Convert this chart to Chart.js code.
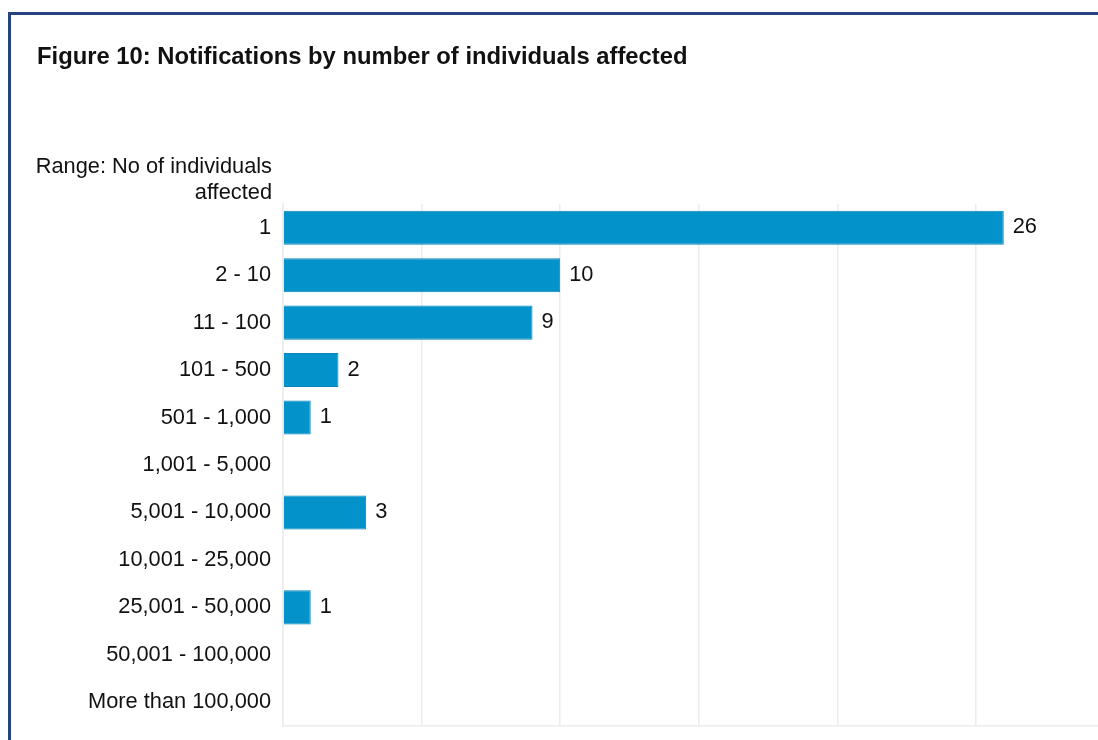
<!DOCTYPE html>
<html>
<head>
<meta charset="utf-8">
<title>Notifications by number of individuals affected</title>
<script src="https://cdn.jsdelivr.net/npm/chart.js@4/dist/chart.umd.min.js"></script>
<style>
  html, body { margin: 0; padding: 0; background: #ffffff; overflow: hidden; }
  #wrap { position: relative; width: 1098px; height: 740px; }
  #frame {
    position: absolute; left: 8px; top: 12px; width: 1200px; height: 900px;
    border-top: 3px solid #27427f; border-left: 3px solid #27427f;
  }
  canvas { position: absolute; left: 0; top: 0; }
</style>
</head>
<body>
<div id="wrap">
  <div id="frame"></div>
  <canvas id="chart" width="1098" height="740"></canvas>
</div>
<script>
// Size bands of individuals affected per notification
const categories = [
  '1', '2 - 10', '11 - 100', '101 - 500', '501 - 1,000', '1,001 - 5,000',
  '5,001 - 10,000', '10,001 - 25,000', '25,001 - 50,000', '50,001 - 100,000',
  'More than 100,000'
];
// Number of notifications in each band
const notifications = [26, 10, 9, 2, 1, 0, 3, 0, 1, 0, 0];
const chartTitle = 'Figure 10: Notifications by number of individuals affected';
const axisTitleLines = ['Range: No of individuals', 'affected'];

const FONT = '"Liberation Sans", Arial, sans-serif';
const TEXT = '#111111';
const BAR = '#0392c9';

// Heading, axis caption and value labels drawn onto the canvas
const annotations = {
  id: 'annotations',
  afterDatasetsDraw(chart) {
    const ctx = chart.ctx;
    ctx.save();
    ctx.fillStyle = TEXT;

    ctx.font = 'bold 23.8px ' + FONT;
    ctx.textAlign = 'left';
    ctx.textBaseline = 'alphabetic';
    ctx.fillText(chartTitle, 37, 64);

    ctx.font = '21.8px ' + FONT;
    ctx.textAlign = 'right';
    ctx.fillText(axisTitleLines[0], 272, 173);
    ctx.fillText(axisTitleLines[1], 272, 199);

    ctx.textAlign = 'left';
    ctx.textBaseline = 'middle';
    const meta = chart.getDatasetMeta(0);
    meta.data.forEach((bar, i) => {
      const v = notifications[i];
      if (!v) return;
      ctx.fillText(String(v), bar.x + 9, bar.y - 0.5);
    });
    ctx.restore();
  }
};

new Chart(document.getElementById('chart'), {
  type: 'bar',
  data: {
    labels: categories,
    datasets: [{
      data: notifications,
      backgroundColor: BAR,
      borderColor: '#0a84ba',
      borderWidth: c => (c.raw ? 1 : 0),
      borderSkipped: 'start',
      barPercentage: 0.717,
      categoryPercentage: 1
    }]
  },
  options: {
    indexAxis: 'y',
    responsive: false,
    animation: false,
    events: [],
    layout: { padding: { top: 204, right: 0, bottom: 0, left: 0 } },
    plugins: {
      legend: { display: false },
      title: { display: false },
      tooltip: { enabled: false }
    },
    scales: {
      x: {
        type: 'linear',
        min: 0,
        max: 29.4,
        ticks: { display: false, stepSize: 5 },
        afterBuildTicks: s => { s.ticks = s.ticks.filter(t => t.value % 5 === 0); },
        afterFit: s => { s.height = 14; s.paddingLeft = 0; s.paddingRight = 0; },
        grid: { color: '#ececec', lineWidth: 1.5, drawTicks: false },
        border: { display: true, color: '#ececec', width: 1.5 }
      },
      y: {
        type: 'category',
        offset: true,
        afterFit: s => { s.width = 283; s.paddingTop = 0; s.paddingBottom = 0; },
        grid: { display: false, drawTicks: false },
        border: { display: true, color: '#ececec', width: 1.5 },
        ticks: {
          padding: 12,
          color: TEXT,
          font: { family: FONT, size: 21.8 }
        }
      }
    }
  },
  plugins: [annotations]
});
</script>
</body>
</html>
